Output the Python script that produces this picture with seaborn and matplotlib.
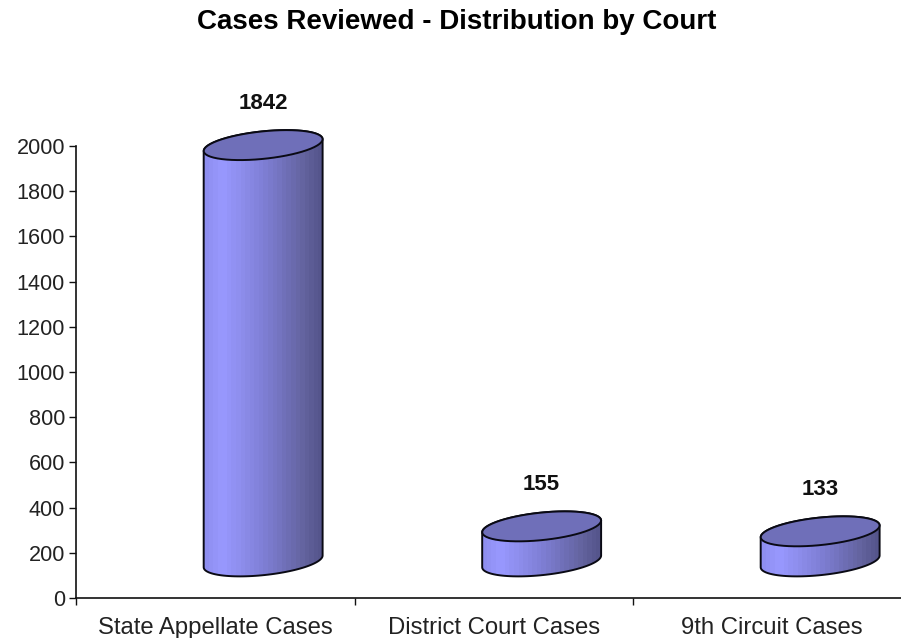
import numpy as np
import pandas as pd
import matplotlib
matplotlib.use('Agg')
import matplotlib.pyplot as plt
import seaborn as sns
from matplotlib.colors import LinearSegmentedColormap
from matplotlib.patches import PathPatch, Polygon
from matplotlib.path import Path

courts = ['State Appellate Cases', 'District Court Cases', '9th Circuit Cases']
cases = [1842, 155, 133]
y_ticks = list(range(0, 2001, 200))

# fake 3d look: the cylinders sit back and to the right of the axis
floor = 162
shift_x = 0.172
tilt = 26
squash = 61
bar_width = 0.427

sns.set_style('white')
plt.rcParams['font.family'] = ['Liberation Sans', 'DejaVu Sans']

fig = plt.figure(figsize=(9.01, 6.38), dpi=100)
ax = fig.add_axes([76 / 901, 40 / 638, 835.5 / 901, 452 / 638])

df = pd.DataFrame({'court': courts, 'cases': cases})
sns.barplot(data=df, x='court', y='cases', width=bar_width, ax=ax)
ax.set_xlim(-0.5, 2.5)
ax.set_ylim(0, 2000)

cmap = LinearSegmentedColormap.from_list(
    'cyl', [(0, '#8e8ef0'), (0.14, '#9999ff'), (0.5, '#7f7fd6'), (0.85, '#64649f'), (1, '#55558c')])
grad = np.linspace(0, 1, 26).reshape(1, -1)


def arc(cx, cy, half, t0, t1):
    t = np.linspace(t0, t1, 60)
    return np.column_stack([cx + half * np.cos(t), cy + tilt * np.cos(t) + squash * np.sin(t)])


for bar, val in zip(ax.patches, cases):
    half = bar.get_width() / 2
    cx = bar.get_x() + half + shift_x
    top = floor + val
    bar.set_visible(False)

    body = np.vstack([arc(cx, floor, half, np.pi, 2 * np.pi), arc(cx, top, half, 0, np.pi)])
    path = Path(np.vstack([body, body[:1]]), closed=True)
    outline = PathPatch(path, fc='none', ec='#0a0a14', lw=1.4, clip_on=False, zorder=4)
    ax.add_patch(outline)
    im = ax.imshow(grad, cmap=cmap, aspect='auto', interpolation='nearest', zorder=3,
                   extent=(cx - half, cx + half, floor - squash * 1.2, top + squash * 1.2))
    im.set_clip_path(path, ax.transData)
    im.set_clip_box(fig.bbox)

    ax.add_patch(Polygon(arc(cx, top, half, 0, 2 * np.pi), closed=True, fc='#6f6fb9',
                         ec='#0a0a14', lw=1.4, clip_on=False, zorder=5))
    ax.annotate(str(val), (cx, top), xytext=(0, 30), textcoords='offset points', ha='center',
                va='center', fontsize=16, fontweight='bold', color='#111111', annotation_clip=False)

ax.set_xlim(-0.5, 2.5)
ax.set_ylim(0, 2000)
ax.set_xlabel('')
ax.set_ylabel('')
ax.set_yticks(y_ticks)

# tick marks go between the categories, labels stay centred
ax.set_xticks([-0.5, 0.5, 1.5, 2.5], minor=True)
ax.tick_params(axis='x', which='major', length=0, pad=14, labelsize=17.2, labelcolor='#222222')
ax.tick_params(axis='x', which='minor', length=5, width=1, color='#111111', bottom=True)
ax.tick_params(axis='y', length=5, width=1, color='#111111', labelsize=15.6, labelcolor='#222222', pad=3, left=True)
for side in ['top', 'right']:
    ax.spines[side].set_visible(False)
for side in ['left', 'bottom']:
    ax.spines[side].set_color('#111111')
    ax.spines[side].set_linewidth(1.2)

fig.text(457 / 901, 1 - 22 / 638, 'Cases Reviewed - Distribution by Court', ha='center', va='center',
         fontsize=20, fontweight='bold', color='#000000')

fig.savefig('out.png', dpi=100, facecolor='white')
